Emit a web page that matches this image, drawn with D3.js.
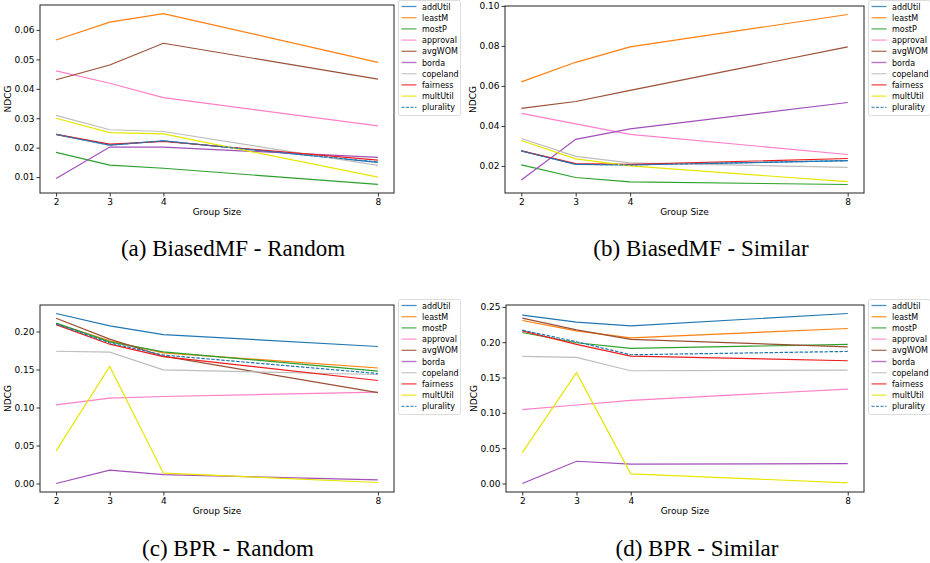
<!DOCTYPE html>
<html>
<head>
<meta charset="utf-8">
<script src="https://cdn.jsdelivr.net/npm/d3@7"></script>
<style>
  body { margin: 0; background: #fff; }
  text { font-family: "DejaVu Sans", sans-serif; }
  .caption { font-family: "Liberation Serif", "Times New Roman", serif; }
</style>
</head>
<body>
<script>
// group sizes on the x axis
var groupSizes = [2, 3, 4, 8];

// methods, in legend order
var methods = ["addUtil", "leastM", "mostP", "approval", "avgWOM", "borda", "copeland", "fairness", "multUtil", "plurality"];
var colors = ["#1f77b4", "#ff7f0e", "#2ca02c", "#ff7fc8", "#9a4f35", "#a04fb8", "#bdbdbd", "#ee1c1c", "#e6e600", "#1f77b4"];

// NDCG per method (rows follow `methods`), one array per panel
var biasedMFRandom = [
    [0.0245, 0.0209, 0.0223, 0.0150],
    [0.0566, 0.0627, 0.0656, 0.0490],
    [0.0184, 0.0141, 0.0130, 0.0075],
    [0.0461, 0.0419, 0.0370, 0.0274],
    [0.0431, 0.0481, 0.0555, 0.0433],
    [0.0095, 0.0202, 0.0202, 0.0167],
    [0.0310, 0.0261, 0.0255, 0.0140],
    [0.0245, 0.0212, 0.0221, 0.0158],
    [0.0300, 0.0251, 0.0247, 0.0100],
    [0.0245, 0.0209, 0.0223, 0.0151]
];

var biasedMFSimilar = [
    [0.0275, 0.0208, 0.0205, 0.0226],
    [0.0620, 0.0718, 0.0795, 0.0957],
    [0.0205, 0.0142, 0.0120, 0.0107],
    [0.0463, 0.0410, 0.0358, 0.0257],
    [0.0488, 0.0522, 0.0578, 0.0795],
    [0.0130, 0.0333, 0.0385, 0.0517],
    [0.0337, 0.0248, 0.0215, 0.0193],
    [0.0275, 0.0212, 0.0208, 0.0237],
    [0.0327, 0.0235, 0.0200, 0.0121],
    [0.0275, 0.0208, 0.0205, 0.0226]
];

var bprRandom = [
    [0.2237, 0.2075, 0.1960, 0.1803],
    [0.2105, 0.1877, 0.1720, 0.1520],
    [0.2110, 0.1864, 0.1732, 0.1480],
    [0.1035, 0.1123, 0.1145, 0.1202],
    [0.2175, 0.1900, 0.1675, 0.1197],
    [0.0000, 0.0175, 0.0118, 0.0048],
    [0.1740, 0.1728, 0.1496, 0.1434],
    [0.2090, 0.1833, 0.1670, 0.1355],
    [0.0430, 0.1540, 0.0136, 0.0013],
    [0.2100, 0.1850, 0.1690, 0.1447]
];

var bprSimilar = [
    [0.2382, 0.2283, 0.2232, 0.2406],
    [0.2307, 0.2161, 0.2062, 0.2194],
    [0.2137, 0.1992, 0.1912, 0.1968],
    [0.1045, 0.1111, 0.1177, 0.1337],
    [0.2340, 0.2175, 0.2039, 0.1935],
    [0.0000, 0.0315, 0.0273, 0.0282],
    [0.1798, 0.1784, 0.1596, 0.1606],
    [0.2161, 0.1968, 0.1803, 0.1737],
    [0.0438, 0.1568, 0.0137, 0.0010],
    [0.2170, 0.2006, 0.1822, 0.1869]
];

// y tick labels per panel
var ticksBiasedMFRandom = [0.01, 0.02, 0.03, 0.04, 0.05, 0.06];
var ticksBiasedMFSimilar = [0.02, 0.04, 0.06, 0.08, 0.10];
var ticksBprRandom = [0.00, 0.05, 0.10, 0.15, 0.20];
var ticksBprSimilar = [0.00, 0.05, 0.10, 0.15, 0.20, 0.25];

var svg = d3.select("body").append("svg")
    .attr("width", 930)
    .attr("height", 563);

var panels = [
    { data: biasedMFRandom, ticks: ticksBiasedMFRandom, caption: "(a) BiasedMF - Random",
      left: 40, right: 394, top: 5, bottom: 193, legendX: 398, legendY: 0, capX: 233, capY: 256 },
    { data: biasedMFSimilar, ticks: ticksBiasedMFSimilar, caption: "(b) BiasedMF - Similar",
      left: 505, right: 864, top: 6, bottom: 193, legendX: 868, legendY: 0, capX: 701, capY: 256 },
    { data: bprRandom, ticks: ticksBprRandom, caption: "(c) BPR - Random",
      left: 40, right: 394, top: 305, bottom: 492, legendX: 398, legendY: 299, capX: 228, capY: 556 },
    { data: bprSimilar, ticks: ticksBprSimilar, caption: "(d) BPR - Similar",
      left: 506, right: 864, top: 305, bottom: 492, legendX: 868, legendY: 299, capX: 697, capY: 556 }
];

panels.forEach(drawPanel);

function drawPanel(p) {
    var g = svg.append("g");

    // matplotlib-style 5% margins
    var xPad = (8 - 2) * 0.05;
    var x = d3.scaleLinear()
        .domain([2 - xPad, 8 + xPad])
        .range([p.left, p.right]);

    var all = d3.merge(p.data);
    var lo = d3.min(all), hi = d3.max(all);
    var yPad = (hi - lo) * 0.05;
    var y = d3.scaleLinear()
        .domain([lo - yPad, hi + yPad])
        .range([p.bottom, p.top]);

    // X AXIS
    var xAxis = g.append("g")
        .attr("transform", "translate(0," + p.bottom + ")")
        .call(d3.axisBottom(x).tickValues(groupSizes).tickSize(3.5).tickPadding(2).tickFormat(d3.format("d")));

    // Y AXIS
    var yAxis = g.append("g")
        .attr("transform", "translate(" + p.left + ",0)")
        .call(d3.axisLeft(y).tickValues(p.ticks).tickSize(3.5).tickPadding(2).tickFormat(d3.format(".2f")));

    [xAxis, yAxis].forEach(function (a) {
        a.select(".domain").remove();
        a.selectAll("line").attr("stroke", "#000").attr("stroke-width", 0.8);
        a.selectAll("text").attr("font-size", "9px").attr("fill", "#000")
            .attr("font-family", "DejaVu Sans, sans-serif");
    });

    // LINES
    var line = d3.line()
        .x(function (d, i) { return x(groupSizes[i]); })
        .y(function (d) { return y(d); });

    g.selectAll("path.series")
        .data(p.data)
        .enter()
        .append("path")
        .attr("class", "series")
        .attr("d", line)
        .attr("fill", "none")
        .attr("stroke", function (d, i) { return colors[i]; })
        .attr("stroke-width", 1.2)
        .attr("stroke-dasharray", function (d, i) { return methods[i] === "plurality" ? "3.5,1.5" : null; });

    // FRAME
    g.append("rect")
        .attr("x", p.left)
        .attr("y", p.top)
        .attr("width", p.right - p.left)
        .attr("height", p.bottom - p.top)
        .attr("fill", "none")
        .attr("stroke", "#222")
        .attr("stroke-width", 1);

    // AXIS LABELS
    g.append("text")
        .attr("x", (p.left + p.right) / 2)
        .attr("y", p.bottom + 22)
        .attr("font-size", "9px")
        .attr("text-anchor", "middle")
        .text("Group Size");

    g.append("text")
        .attr("transform", "translate(" + (p.left - 29) + "," + ((p.top + p.bottom) / 2) + ") rotate(-90)")
        .attr("font-size", "9px")
        .attr("text-anchor", "middle")
        .text("NDCG");

    // LEGEND
    var lg = g.append("g")
        .attr("transform", "translate(" + p.legendX + "," + p.legendY + ")");

    lg.append("rect")
        .attr("x", 0.5)
        .attr("y", 0.5)
        .attr("width", 62)
        .attr("height", 115)
        .attr("rx", 2)
        .attr("fill", "#fff")
        .attr("stroke", "#dcdcdc");

    var rows = lg.selectAll("g.row")
        .data(methods)
        .enter()
        .append("g")
        .attr("class", "row")
        .attr("transform", function (d, i) { return "translate(0," + (6.5 + i * 11.2) + ")"; });

    rows.append("line")
        .attr("x1", 3.5)
        .attr("x2", 18.5)
        .attr("stroke", function (d, i) { return colors[i]; })
        .attr("stroke-opacity", 0.8)
        .attr("stroke-width", 1.3)
        .attr("stroke-dasharray", function (d) { return d === "plurality" ? "3,1.5" : null; });

    rows.append("text")
        .attr("x", 24)
        .attr("y", 3)
        .attr("font-size", "8px")
        .text(function (d) { return d; });

    // CAPTION
    svg.append("text")
        .attr("class", "caption")
        .attr("x", p.capX)
        .attr("y", p.capY)
        .attr("text-anchor", "middle")
        .attr("font-size", "23px")
        .text(p.caption);
}
</script>
</body>
</html>
